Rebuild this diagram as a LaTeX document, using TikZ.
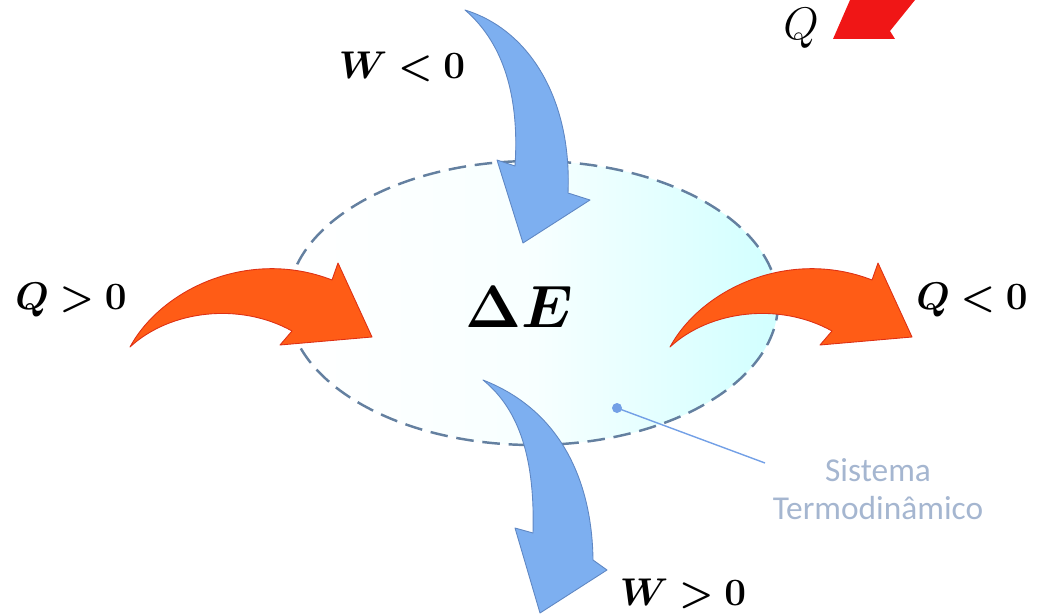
\documentclass[tikz,border=0pt]{standalone}
\usepackage{fix-cm}
\usepackage{amsmath,amssymb,bm}
\usepackage{fontspec}
\newfontfamily\sysfont{Carlito}
\usepackage{tikz}
\usetikzlibrary{calc}
\usepackage{xcolor}
\definecolor{heat}{RGB}{255,92,22}
\definecolor{heatline}{RGB}{222,48,20}
\definecolor{hot}{RGB}{240,22,22}
\definecolor{work}{RGB}{125,175,240}
\definecolor{workline}{RGB}{95,135,195}
\definecolor{rim}{RGB}{100,128,160}
\definecolor{sysgray}{RGB}{165,182,208}
\definecolor{pointer}{RGB}{115,160,230}

\begin{document}
\begin{tikzpicture}[x=0.02cm,y=-0.02cm,
  heatarrow/.style={fill=heat,draw=heatline,line width=0.5pt,line join=round},
  workarrow/.style={fill=work,draw=workline,line width=0.5pt,line join=round},
  sign/.style={font=\fontsize{22}{25}\selectfont}]
\useasboundingbox (0,0) rectangle (1037,615);
% sistema
\path[left color=white,right color=cyan!18,middle color=cyan!3] (533,303) ellipse [x radius=245,y radius=142];
\draw[rim,line width=1.4pt,dash pattern=on 10pt off 5pt] (533,303) ellipse [x radius=245,y radius=142];
% calor entrando / saindo
\foreach \dx in {0,540}{
\begin{scope}[xshift=\dx*0.02cm]
\draw[heatarrow] (130,347) .. controls (162,288) and (250,248) .. (332,280)
  -- (338,263) -- (372,337) -- (280,345) -- (292,331)
  .. controls (240,302) and (170,310) .. cycle;
\end{scope}}
% trabalho
\draw[workarrow] (465,10) .. controls (530,30) and (572,100) .. (568,193)
  -- (590,200) -- (523,243) -- (497,160) -- (515,166)
  .. controls (520,90) and (500,40) .. cycle;
\draw[workarrow] (483,380) .. controls (560,410) and (592,480) .. (593,560)
  -- (607,570) -- (540,613) -- (515,528) -- (533,533)
  .. controls (535,460) and (520,410) .. cycle;
% seta cortada no topo
\fill[hot] (850,0) -- (833,39) -- (895,39) -- (890,31) -- (915,0) -- cycle;
% rotulos
\node[sign] (Win) at (402,67) {$\bm{W<0}$};
\node[sign] (Qin) at (71,300) {$\bm{Q>0}$};
\node[sign] (Qout) at (972,300) {$\bm{Q<0}$};
\node[sign] (Wout) at (683,594) {$\bm{W>0}$};
\node[font=\fontsize{34}{38}\selectfont] (dE) at (519,307) {$\bm{\Delta E}$};
\node[font=\fontsize{26}{30}\selectfont] (Qtop) at (801,28) {$Q$};
\node[align=center,text=sysgray,font=\sysfont\fontsize{19}{21.5}\selectfont] (lbl) at (878,489) {Sistema\\Termodinâmico};
\fill[pointer] (617,408) circle [radius=5] coordinate (dot);
\coordinate (end) at (765,463);
\draw[pointer,line width=0.8pt] (dot) -- (end);
\end{tikzpicture}
\end{document}
